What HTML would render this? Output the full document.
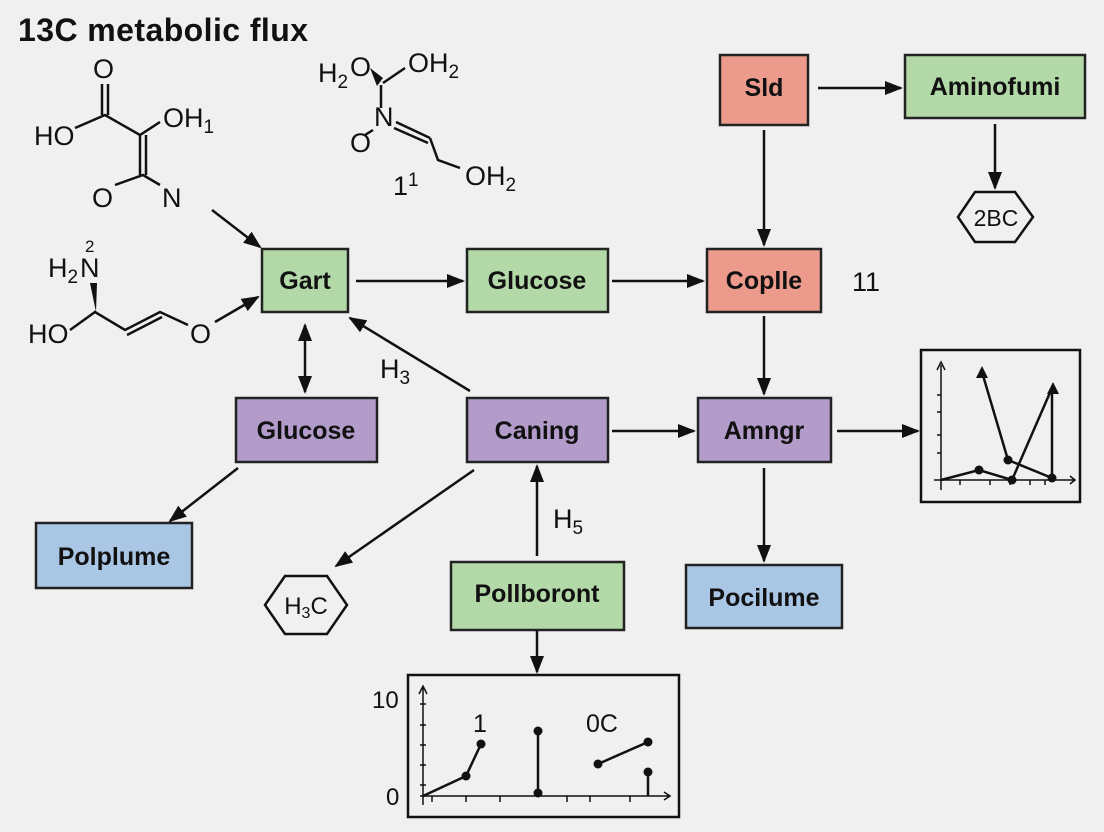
<!DOCTYPE html>
<html><head><meta charset="utf-8"><style>
html,body{margin:0;padding:0;background:#f0f0f0;}
svg{display:block;font-family:"Liberation Sans",sans-serif;}
.b{stroke:#222;stroke-width:2.5;}
.bt{font-weight:bold;font-size:25px;fill:#111;text-anchor:middle;dominant-baseline:central;}
.c{font-size:27px;fill:#111;}
.l{stroke:#111;stroke-width:2.5;fill:none;}
</style></head><body>
<svg width="1104" height="832" viewBox="0 0 1104 832">
<defs>
<marker id="as" markerWidth="18" markerHeight="14" refX="16" refY="7" orient="auto-start-reverse" markerUnits="userSpaceOnUse" viewBox="0 0 18 14"><path d="M0,0L18,7L0,14z" fill="#111"/></marker></defs>
<rect width="1104" height="832" fill="#f0f0f0"/>
<text x="18" y="41" font-size="32" font-weight="bold" fill="#111" textLength="290">13C metabolic flux</text>

<!-- molecule 1 -->
<g class="c"><text x="93" y="78">O</text><text x="34" y="145">HO</text><text x="163" y="127">OH<tspan font-size="19" dy="6">1</tspan></text><text x="92" y="207">O</text><text x="162" y="207">N</text></g>
<path class="l" d="M102,84V115M108,84V115M75,128L105,115L140,135L160,122M140,135V175M146,135V175M115,185L143,175L160,185"/>
<!-- molecule 2 -->
<g class="c"><text x="318" y="82">H<tspan font-size="19" dy="6">2</tspan></text><text x="350" y="76">O</text><text x="408" y="72">OH<tspan font-size="19" dy="6">2</tspan></text><text x="374" y="126">N</text><text x="350" y="152">O</text><text x="465" y="185">OH<tspan font-size="19" dy="6">2</tspan></text><text x="393" y="195">1<tspan font-size="19" dy="-9">1</tspan></text></g>
<path d="M370,68L383,78L377,86z" fill="#111"/>
<path class="l" d="M383,83L405,68M381,85V108M365,135L373,130M396,122L430,138M394,128L428,143M430,138L438,160L460,168"/>
<!-- molecule 3 -->
<g class="c"><text x="48" y="277">H<tspan font-size="19" dy="6">2</tspan></text><text x="80" y="277">N</text><text x="85" y="252" font-size="17">2</text><text x="28" y="343">HO</text><text x="190" y="343">O</text></g>
<path d="M90,283L97,283L96,312z" fill="#111"/>
<path class="l" d="M70,330L95,312L125,330L160,312L188,325M127,335L162,317"/>

<!-- boxes -->
<rect class="b" x="720" y="55" width="88" height="70" fill="#eb9a8c"/><text class="bt" x="764" y="88">Sld</text>
<rect class="b" x="905" y="55" width="180" height="63" fill="#b3d9a8"/><text class="bt" x="995" y="87">Aminofumi</text>
<rect class="b" x="262" y="249" width="86" height="63" fill="#b3d9a8"/><text class="bt" x="305" y="281">Gart</text>
<rect class="b" x="467" y="249" width="141" height="63" fill="#b3d9a8"/><text class="bt" x="537" y="281">Glucose</text>
<rect class="b" x="707" y="249" width="114" height="63" fill="#eb9a8c"/><text class="bt" x="764" y="281">Coplle</text>
<rect class="b" x="236" y="398" width="141" height="64" fill="#b39cca"/><text class="bt" x="306" y="431">Glucose</text>
<rect class="b" x="467" y="398" width="141" height="64" fill="#b39cca"/><text class="bt" x="537" y="431">Caning</text>
<rect class="b" x="698" y="398" width="133" height="64" fill="#b39cca"/><text class="bt" x="764" y="431">Amngr</text>
<rect class="b" x="36" y="523" width="156" height="65" fill="#a9c6e4"/><text class="bt" x="114" y="557">Polplume</text>
<rect class="b" x="451" y="562" width="173" height="68" fill="#b3d9a8"/><text class="bt" x="537" y="594">Pollboront</text>
<rect class="b" x="686" y="565" width="156" height="63" fill="#a9c6e4"/><text class="bt" x="764" y="598">Pocilume</text>

<text class="c" x="852" y="291" font-size="24">11</text>
<text class="c" x="380" y="378">H<tspan font-size="19" dy="6">3</tspan></text>
<text class="c" x="553" y="528">H<tspan font-size="19" dy="6">5</tspan></text>

<!-- hexagons -->
<polygon class="l" points="975,192 1015,192 1033,217 1015,242 975,242 958,217" stroke-width="1.8"/><text x="996" y="226" font-size="23" text-anchor="middle" fill="#111">2BC</text>
<polygon class="l" points="285,576 327,576 347,605 327,634 285,634 265,605" stroke-width="1.8"/><text x="306" y="614" font-size="24" text-anchor="middle" fill="#111">H<tspan font-size="16" dy="4">3</tspan><tspan dy="-4">C</tspan></text>

<!-- arrows -->
<g class="l" marker-end="url(#as)">
<path d="M212,210L260,247"/><path d="M215,322L258,297"/>
<path d="M356,281L463,281"/><path d="M612,281L703,281"/>
<path d="M818,88L901,88"/><path d="M995,124L995,188"/>
<path d="M764,130L764,245"/><path d="M764,316L764,394"/>
<path d="M470,391L350,318"/>
<path d="M612,431L694,431"/><path d="M837,431L918,431"/>
<path d="M764,468L764,561"/>
<path d="M238,468L170,521"/>
<path d="M474,470L336,566"/>
<path d="M537,556L537,466"/>
<path d="M537,630L537,672"/>
</g>
<path class="l" d="M305,325L305,392" marker-start="url(#as)" marker-end="url(#as)"/>

<!-- chart1 -->
<rect x="921" y="350" width="159" height="152" fill="none" stroke="#111" stroke-width="2.5"/>
<g stroke="#111" stroke-width="1.5" fill="none">
<path d="M941,490V365M937,370L941,362L945,370M934,480H1075M1070,476L1075,480L1070,484"/>
<path d="M937,412H941M937,453H941M937,435H941M937,395H941M960,480V485M990,480V485M1010,480V485M1030,480V485M1045,480V485"/>
</g>
<g class="l" stroke-width="2">
<path d="M941,480L979,470L1012,480L1052,388M1052,388V478"/>
<path d="M1008,460L982,372M1008,460L1052,478"/>
</g>
<path d="M976,378L982,366L988,378z M1047,394L1053,382L1059,394z" fill="#111"/>
<g fill="#111"><circle cx="979" cy="470" r="4.5"/><circle cx="1008" cy="460" r="4.5"/><circle cx="1012" cy="480" r="4.5"/><circle cx="1052" cy="478" r="4.5"/></g>

<!-- chart2 -->
<rect x="408" y="675" width="271" height="142" fill="none" stroke="#111" stroke-width="2.5"/>
<text x="372" y="708" font-size="24" fill="#111">10</text><text x="386" y="805" font-size="24" fill="#111">0</text>
<g stroke="#111" stroke-width="1.5" fill="none">
<path d="M423,805V688M419,694L423,686L427,694M420,796H670M664,792L670,796L664,800"/>
<path d="M420,704H426M420,725H426M420,745H426M420,765H426M420,785H426M432,796V802M466,796V802M500,796V802M567,796V802M590,796V802M630,796V802"/>
</g>
<g class="l" stroke-width="2"><path d="M423,796L466,776L481,744M538,731V793M598,764L648,742M648,772V796"/></g>
<g fill="#111"><circle cx="466" cy="776" r="4.5"/><circle cx="481" cy="744" r="4.5"/><circle cx="538" cy="731" r="4.5"/><circle cx="538" cy="793" r="4.5"/><circle cx="598" cy="764" r="4.5"/><circle cx="648" cy="742" r="4.5"/><circle cx="648" cy="772" r="4.5"/></g>
<text x="473" y="732" font-size="25" fill="#111">1</text><text x="586" y="732" font-size="25" fill="#111">0C</text>
</svg>
</body></html>
